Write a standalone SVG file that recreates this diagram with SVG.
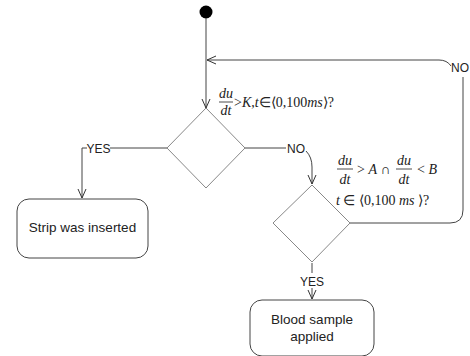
<svg xmlns="http://www.w3.org/2000/svg" width="470" height="356" viewBox="0 0 470 356">
<defs>
<marker id="arr" viewBox="0 0 10 10" refX="10" refY="5" markerWidth="10" markerHeight="10" markerUnits="userSpaceOnUse" orient="auto">
<polyline points="1,1 10,5 1,9" fill="none" stroke="#333" stroke-width="1"/>
</marker>
</defs>
<style>
.edge{fill:none;stroke:#444;stroke-width:1}
.dia{fill:#fff;stroke:#888;stroke-width:1}
.box{fill:#fff;stroke:#444;stroke-width:1}
.lbl{font-family:"Liberation Sans",Arial,sans-serif;font-size:12px;fill:#222;text-anchor:middle}
.nt{font-family:"Liberation Sans",Arial,sans-serif;font-size:13.5px;fill:#222;text-anchor:middle}
.m{font-family:"Liberation Serif","Times New Roman",serif;fill:#222}
.i{font-style:italic}
</style>
<g id="start"><circle cx="206" cy="12" r="6.5" fill="#000"/></g>
<g id="connectors">
<path class="edge" d="M206,18 L206,108" marker-end="url(#arr)"/>
<path class="edge" d="M350,223 L450,223 Q463,223 463,210 L463,77"/>
<path class="edge" d="M451,66 Q447,60 439,60 L207,60" marker-end="url(#arr)"/>
<path class="edge" d="M167,148 L110,148"/>
<path class="edge" d="M87,148 L82,148 L82,198" marker-end="url(#arr)"/>
<path class="edge" d="M245,148 L286,148"/>
<path class="edge" d="M306,151 Q312,157 312,167 L312,184" marker-end="url(#arr)"/>
<path class="edge" d="M312,263 L312,273"/>
<path class="edge" d="M312,288 L312,299" marker-end="url(#arr)"/>
<text class="lbl" x="98.5" y="152.5">YES</text>
<text class="lbl" x="296" y="152.5">NO</text>
<text class="lbl" x="312" y="286">YES</text>
<text class="lbl" x="451" y="72" style="text-anchor:start">NO</text>
</g>
<g id="decision1">
<polygon class="dia" points="206,108 245,148 206,188 167,148"/>
<g class="m" font-size="14">
<text x="226" y="98" text-anchor="middle" class="i">du</text>
<line x1="219" y1="102" x2="233" y2="102" stroke="#222" stroke-width="0.8"/>
<text x="226" y="115" text-anchor="middle" class="i">dt</text>
<text x="234" y="107">&gt;<tspan class="i">K</tspan>,<tspan class="i">t</tspan>∈⟨0,100<tspan class="i">ms</tspan>⟩?</text>
</g>
</g>
<g id="decision2">
<polygon class="dia" points="312,185 350,223 312,262 273,223"/>
<g class="m" font-size="14">
<text x="345" y="165" text-anchor="middle" class="i">du</text>
<line x1="337" y1="169" x2="353" y2="169" stroke="#222" stroke-width="0.8"/>
<text x="345" y="184" text-anchor="middle" class="i">dt</text>
<text x="357" y="174">&gt; <tspan class="i">A</tspan> ∩</text>
<text x="404" y="165" text-anchor="middle" class="i">du</text>
<line x1="396" y1="169" x2="412" y2="169" stroke="#222" stroke-width="0.8"/>
<text x="404" y="184" text-anchor="middle" class="i">dt</text>
<text x="417" y="174">&lt; <tspan class="i">B</tspan></text>
<text x="336" y="205"><tspan class="i">t</tspan> ∈ ⟨0,100 <tspan class="i">ms</tspan> ⟩?</text>
</g>
</g>
<g id="strip">
<rect class="box" x="17" y="199" width="131" height="59" rx="12"/>
<text class="nt" x="82.5" y="232">Strip was inserted</text>
</g>
<g id="blood">
<rect class="box" x="250" y="300" width="124" height="56" rx="12"/>
<text class="nt" x="312" y="324">Blood sample</text>
<text class="nt" x="312" y="341">applied</text>
</g>
</svg>
